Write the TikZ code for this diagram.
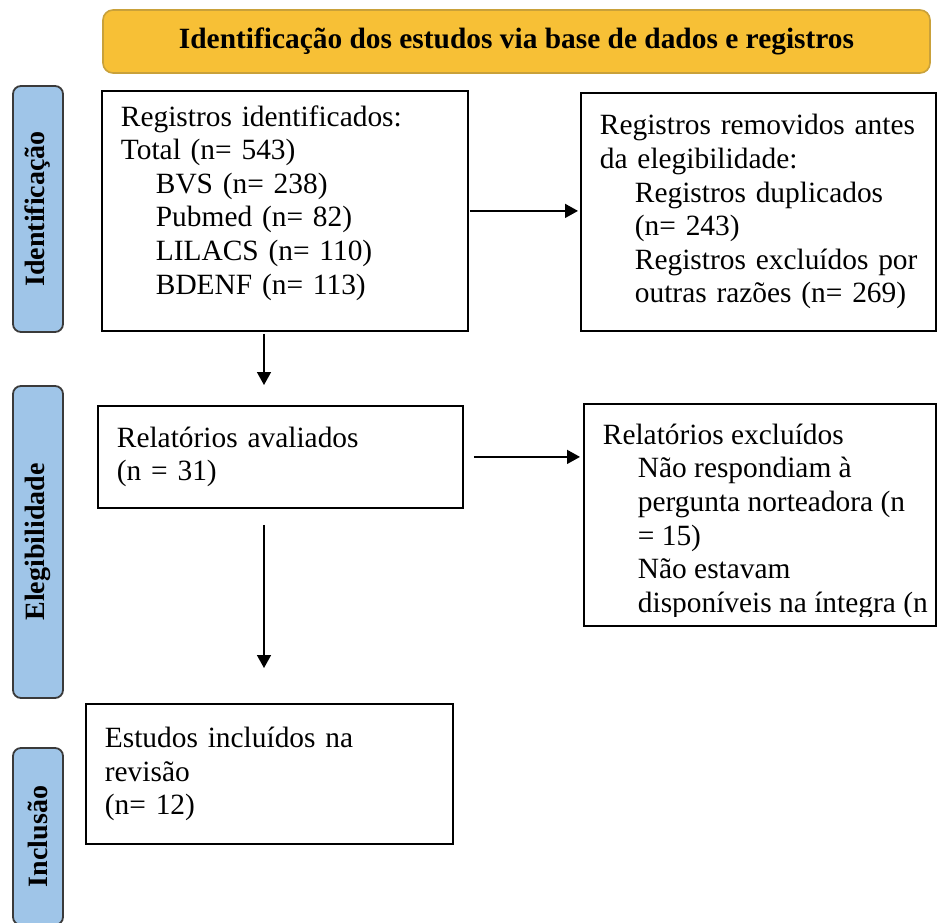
\documentclass[tikz,border=0pt]{standalone}
\usepackage{fontspec}
\setmainfont{Liberation Serif}
\usetikzlibrary{arrows.meta}

\definecolor{faixa}{HTML}{F7C036}
\definecolor{faixaborda}{HTML}{C9A13A}
\definecolor{fase}{HTML}{9FC5E8}
\definecolor{faseborda}{HTML}{3A3A3A}

\newcommand{\ind}{\hspace*{17.5pt}}

\tikzset{
  caixa/.style={draw, line width=0.9pt, anchor=north west, align=left,
    inner xsep=9.5pt, font=\fontsize{14.7}{16.8}\selectfont},
  fasebox/.style={draw=faseborda, fill=fase, line width=0.9pt, rounded corners=4pt,
    rotate=90, minimum height=25pt, font=\bfseries\fontsize{14}{16}\selectfont},
  seta/.style={-{Triangle[length=6.5pt, width=7pt]}, line width=0.8pt},
}

\begin{document}
\begin{tikzpicture}[x=0.5pt, y=-0.5pt]
  \useasboundingbox (0,0) rectangle (937,922);

  \node [draw=faixaborda, fill=faixa, line width=0.8pt, rounded corners=5pt,
         minimum width=413.5pt, minimum height=31.5pt,
         font=\bfseries\fontsize{14.7}{17}\selectfont] (titulo) at (516.5,41.5)
        {Identificação dos estudos via base de dados e registros};

  \node [fasebox, minimum width=123pt]  (fident) at (38,209)   {Identificação};
  \node [fasebox, minimum width=156pt]  (felig)  at (38,542)   {Elegibilidade};
  \node [fasebox, minimum width=88.5pt] (fincl)  at (38,836.5) {Inclusão};

  \node [caixa, text width=164pt, minimum height=120pt] (regid) at (101,90)
        {Registros identificados:\\
         Total (n= 543)\\
         \ind BVS (n= 238)\\
         \ind Pubmed (n= 82)\\
         \ind LILACS (n= 110)\\
         \ind BDENF (n= 113)\par\kern8pt};
  \node [caixa, text width=158.5pt, minimum height=119pt] (regrem) at (580,92)
        {Registros removidos antes\\
         da elegibilidade:\\
         \ind Registros duplicados\\
         \ind (n= 243)\\
         \ind\mbox{Registros excluídos por}\\
         \ind\mbox{outras razões (n= 269)}};
  \node [caixa, text width=163.5pt, minimum height=51pt] (relav) at (97,405)
        {Relatórios avaliados\\
         (n = 31)};
  \node [caixa, minimum width=176pt, minimum height=111pt] (relexc) at (583,403) {};
  \begin{scope}
    \clip (relexc.north west) rectangle ([yshift=5pt]relexc.south east);
    \node [caixa, draw=none, inner ysep=10pt] (relexctxt) at (relexc.north west)
          {Relatórios excluídos\\
           \ind Não respondiam à\\
           \ind pergunta norteadora (n\\
           \ind = 15)\\
           \ind Não estavam\\
           \ind disponíveis na íntegra (n};
  \end{scope}
  \node [caixa, text width=164.5pt, minimum height=70pt] (incl) at (85,703)
        {Estudos incluídos na\\
         revisão\\
         (n= 12)};

  \coordinate (eixo) at (264,0);
  \draw [seta, shorten <=0.5pt, shorten >=1pt] (regid.east) -- (regid.east -| regrem.west);
  \draw [seta, shorten <=1pt, shorten >=10pt] (regid.south -| eixo) -- (relav.north -| eixo);
  \draw [seta, shorten <=5pt, shorten >=1.5pt] (relav.east) -- (relav.east -| relexc.west);
  \draw [seta, shorten <=8pt, shorten >=17.5pt] (relav.south -| eixo) -- (incl.north -| eixo);
\end{tikzpicture}
\end{document}
